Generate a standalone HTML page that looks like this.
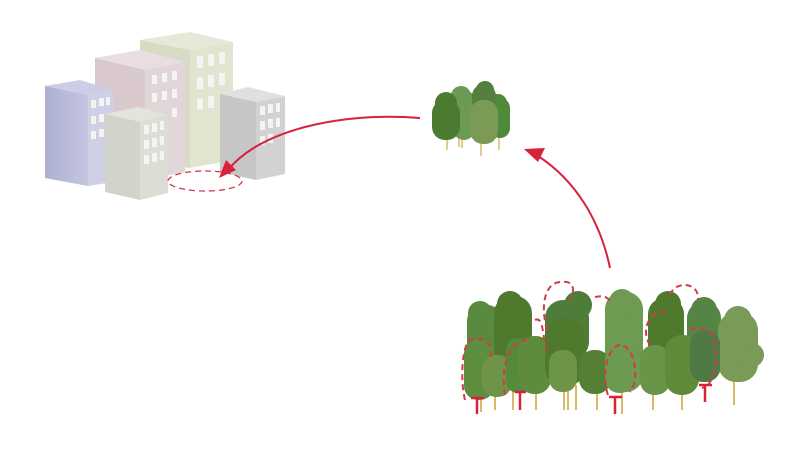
<!DOCTYPE html>
<html><head><meta charset="utf-8"><style>html,body{margin:0;padding:0;background:#fff}svg{display:block}</style></head>
<body>
<svg width="800" height="473" viewBox="0 0 800 473" xmlns="http://www.w3.org/2000/svg">
<defs>
<linearGradient id="gb" x1="0" x2="1"><stop offset="0" stop-color="#aeb0d2"/><stop offset="1" stop-color="#c4c6e0"/></linearGradient>
</defs>
<!-- Buildings -->
<!-- tan back -->
<polygon points="140,40 190,32 233,42 190,50" fill="#e6e8d8"/>
<polygon points="140,40 190,50 190,168 140,160" fill="#d8dbc3"/>
<polygon points="190,50 233,42 233,160 190,168" fill="#e2e4d0"/>
<!-- pink -->
<polygon points="95,58 140,50 185,62 145,70" fill="#e8dde0"/>
<polygon points="95,58 145,70 145,180 95,170" fill="#d9c9cd"/>
<polygon points="145,70 185,62 185,172 145,180" fill="#e2d5d8"/>
<!-- blue left -->
<polygon points="45,86 80,80 113,90 88,95" fill="#ccceE6"/>
<polygon points="45,86 88,95 88,186 45,178" fill="url(#gb)"/>
<polygon points="88,95 113,90 113,182 88,186" fill="#cfd0e6"/>
<!-- gray right -->
<polygon points="220,94 248,87 285,96 256,102" fill="#e0e0e0"/>
<polygon points="220,94 256,102 256,180 220,172" fill="#c6c6c6"/>
<polygon points="256,102 285,96 285,174 256,180" fill="#d2d2d2"/>
<!-- front gray -->
<polygon points="105,114 138,107 168,115 140,122" fill="#e4e4dc"/>
<polygon points="105,114 140,122 140,200 105,192" fill="#d2d3ca"/>
<polygon points="140,122 168,115 168,193 140,200" fill="#dcddd4"/>
<g fill="#f4f4f2">
<!-- tan windows -->
<rect x="197" y="56" width="6" height="12"/><rect x="208" y="54" width="6" height="12"/><rect x="219" y="52" width="6" height="12"/>
<rect x="197" y="77" width="6" height="12"/><rect x="208" y="75" width="6" height="12"/><rect x="219" y="73" width="6" height="12"/>
<rect x="197" y="98" width="6" height="12"/><rect x="208" y="96" width="6" height="12"/>
<!-- pink -->
<rect x="152" y="75" width="5" height="9"/><rect x="162" y="73" width="5" height="9"/><rect x="172" y="71" width="5" height="9"/>
<rect x="152" y="93" width="5" height="9"/><rect x="162" y="91" width="5" height="9"/><rect x="172" y="89" width="5" height="9"/>
<rect x="172" y="108" width="5" height="9"/>
<!-- blue -->
<rect x="91" y="100" width="5" height="8"/><rect x="99" y="98" width="5" height="8"/><rect x="106" y="97" width="4" height="8"/>
<rect x="91" y="116" width="5" height="8"/><rect x="99" y="114" width="5" height="8"/>
<rect x="91" y="131" width="5" height="8"/><rect x="99" y="129" width="5" height="8"/>
<!-- gray right -->
<rect x="260" y="106" width="5" height="9"/><rect x="268" y="104" width="5" height="9"/><rect x="276" y="103" width="4" height="9"/>
<rect x="260" y="121" width="5" height="9"/><rect x="268" y="119" width="5" height="9"/><rect x="276" y="118" width="4" height="9"/>
<rect x="260" y="136" width="5" height="9"/><rect x="268" y="134" width="5" height="9"/>
<!-- front -->
<rect x="144" y="125" width="5" height="9"/><rect x="152" y="123" width="5" height="9"/><rect x="160" y="121" width="4" height="9"/>
<rect x="144" y="140" width="5" height="9"/><rect x="152" y="138" width="5" height="9"/><rect x="160" y="136" width="4" height="9"/>
<rect x="144" y="155" width="5" height="9"/><rect x="152" y="153" width="5" height="9"/><rect x="160" y="151" width="4" height="9"/>
</g>
<ellipse cx="205" cy="181" rx="37" ry="10" fill="none" stroke="#d23a4a" stroke-width="1.3" stroke-dasharray="6,4"/>
<!-- Arrows -->
<path d="M420,118 C340,112 260,130 228,170" fill="none" stroke="#d8213a" stroke-width="2"/>
<polygon points="219,178 226,160 236,170" fill="#d8213a"/>
<path d="M610,268 C600,220 575,180 538,156" fill="none" stroke="#d8213a" stroke-width="2"/>
<polygon points="524,149 545,148 538,162" fill="#d8213a"/>
<!-- Small tree cluster -->
<g stroke="#d9b96a" stroke-width="1.5">
<line x1="447" y1="130" x2="447" y2="150"/><line x1="459" y1="130" x2="459" y2="147"/><line x1="462" y1="130" x2="462" y2="148"/>
<line x1="481" y1="135" x2="481" y2="156"/><line x1="499" y1="130" x2="499" y2="150"/>
</g>
<g>
<rect x="453" y="90" width="22" height="50" rx="11" fill="#6c9a55"/><circle cx="461" cy="96" r="10" fill="#6c9a55"/>
<rect x="432" y="100" width="28" height="40" rx="13" fill="#4c7a30"/><circle cx="446" cy="103" r="11" fill="#4c7a30"/>
<rect x="490" y="98" width="20" height="40" rx="10" fill="#4f8a3a"/><circle cx="498" cy="103" r="9" fill="#4f8a3a"/>
<rect x="472" y="84" width="24" height="30" rx="12" fill="#557f3e"/><circle cx="485" cy="90" r="9" fill="#557f3e"/>
<rect x="470" y="100" width="28" height="44" rx="13" fill="#7a9a55"/>
</g>
<!-- Forest trunks -->
<g stroke="#d9b96a" stroke-width="2">
<line x1="481" y1="390" x2="481" y2="412"/><line x1="495" y1="390" x2="495" y2="410"/>
<line x1="513" y1="385" x2="513" y2="410"/><line x1="536" y1="385" x2="536" y2="410"/>
<line x1="564" y1="385" x2="564" y2="410"/><line x1="568" y1="385" x2="568" y2="410"/><line x1="576" y1="385" x2="576" y2="410"/>
<line x1="597" y1="385" x2="597" y2="410"/><line x1="622" y1="385" x2="622" y2="414"/>
<line x1="653" y1="390" x2="653" y2="410"/><line x1="682" y1="390" x2="682" y2="410"/><line x1="734" y1="380" x2="734" y2="405"/>
</g>
<!-- back row -->
<g>
<rect x="467" y="305" width="36" height="80" rx="16" fill="#5a8a40"/><circle cx="480" cy="313" r="12" fill="#5a8a40"/>
<rect x="494" y="296" width="38" height="74" rx="17" fill="#4f7a2e"/><circle cx="510" cy="304" r="13" fill="#4f7a2e"/>
<rect x="545" y="300" width="44" height="60" rx="18" fill="#4e7d3a"/><circle cx="578" cy="305" r="14" fill="#4e7d3a"/>
<rect x="605" y="292" width="38" height="100" rx="17" fill="#6e9b52"/><circle cx="622" cy="302" r="13" fill="#6e9b52"/>
<rect x="648" y="298" width="36" height="66" rx="16" fill="#4f7a2e"/><circle cx="668" cy="304" r="13" fill="#4f7a2e"/>
<rect x="687" y="302" width="34" height="80" rx="16" fill="#548544"/><circle cx="704" cy="310" r="13" fill="#548544"/>
<rect x="718" y="312" width="40" height="70" rx="18" fill="#7a9a58"/><circle cx="738" cy="320" r="14" fill="#7a9a58"/><circle cx="752" cy="355" r="12" fill="#7a9a58"/>
</g>
<!-- front row -->
<g>
<rect x="464" y="340" width="30" height="60" rx="14" fill="#5e8e40"/>
<rect x="482" y="355" width="30" height="42" rx="14" fill="#6e9448"/>
<rect x="506" y="338" width="26" height="55" rx="12" fill="#548a3a"/>
<rect x="519" y="336" width="32" height="58" rx="15" fill="#5f8c3c"/>
<rect x="545" y="318" width="40" height="68" rx="18" fill="#4f7a2e"/>
<rect x="549" y="350" width="28" height="42" rx="13" fill="#6e9448"/>
<rect x="579" y="350" width="32" height="44" rx="15" fill="#557f35"/>
<rect x="605" y="345" width="30" height="48" rx="14" fill="#6c9a50"/>
<rect x="640" y="345" width="30" height="50" rx="14" fill="#6a9448"/>
<rect x="665" y="335" width="34" height="60" rx="16" fill="#5f8a3a"/>
<rect x="690" y="330" width="30" height="52" rx="14" fill="#4f7a45"/>
</g>
<!-- red dashed outlines -->
<g fill="none" stroke="#d23a4a" stroke-width="2" stroke-dasharray="6,4">
<path d="M465,400 C460,380 462,345 470,340 C485,335 495,345 490,360"/>
<path d="M547,330 C540,305 545,283 560,282 C575,280 575,290 570,300"/>
<path d="M535,320 C545,315 542,345 548,350"/>
<path d="M505,395 C500,365 510,338 530,340"/>
<path d="M608,395 C600,370 610,345 620,345 C635,345 640,380 630,392"/>
<path d="M650,345 C640,330 650,310 665,312"/>
<path d="M670,295 C675,280 700,282 698,300"/>
<path d="M690,330 C705,325 715,330 716,350 C718,370 712,385 702,388"/>
<path d="M595,297 C605,295 605,297 610,300"/>
</g>
<g stroke="#d8213a" stroke-width="2.5">
<line x1="477" y1="398" x2="477" y2="414"/><line x1="471" y1="398" x2="484" y2="398"/>
<line x1="520" y1="392" x2="520" y2="410"/><line x1="515" y1="392" x2="526" y2="392"/>
<line x1="615" y1="397" x2="615" y2="414"/><line x1="609" y1="397" x2="622" y2="397"/>
<line x1="705" y1="385" x2="705" y2="402"/><line x1="699" y1="385" x2="712" y2="385"/>
</g>
</svg>
</body></html>
